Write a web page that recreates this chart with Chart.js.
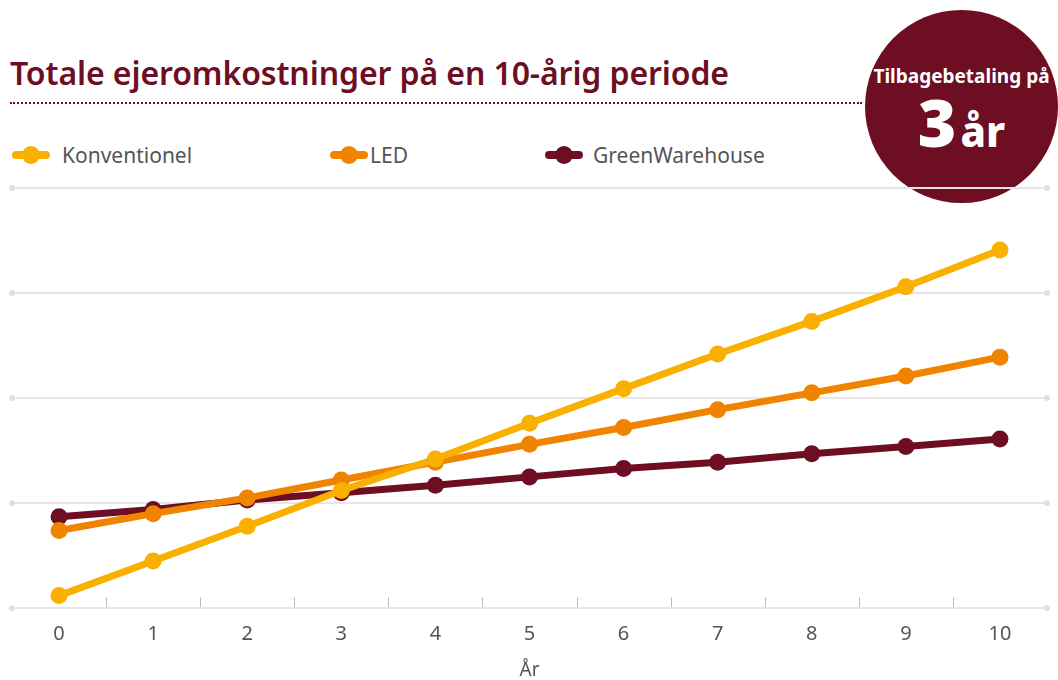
<!DOCTYPE html>
<html>
<head>
<meta charset="utf-8">
<script src="https://cdn.jsdelivr.net/npm/chart.js@4"></script>
<style>
  body { margin: 0; background: #fff; font-family: "Noto Sans", sans-serif; }
  #wrap { position: relative; width: 1058px; height: 680px; overflow: hidden; }
  #title { position: absolute; left: 10px; top: 51px; font-size: 32px; font-weight: 600; color: #6d0e22; white-space: nowrap; letter-spacing: -0.1px; }
  #rule { position: absolute; left: 10px; top: 102px; width: 852px; border-top: 2px dotted #6d0e22; }
  #badge { position: absolute; left: 865px; top: 10px; width: 193px; height: 193px; border-radius: 50%; background: #6d0e22; color: #fff; text-align: center; }
  #badge .small { position: absolute; left: -12px; right: -12px; top: 53px; font-size: 19px; font-weight: 700; }
  #badge .big { position: absolute; left: 0; right: 0; top: 78px; font-weight: 800; line-height: 1; }
  #badge .big b { font-size: 66px; }
  #badge .big span { font-size: 42px; margin-left: 4px; }
  .leg { position: absolute; top: 143px; height: 24px; display: flex; align-items: center; font-size: 21px; color: #555; white-space: nowrap; }
  .sym { position: relative; width: 38px; height: 8px; border-radius: 4px; flex: none; }
  .sym i { position: absolute; left: 10px; top: -5px; width: 18px; height: 18px; border-radius: 50%; }
  canvas { position: absolute; left: 0; top: 0; }
</style>
</head>
<body>
<div id="wrap">
  <div id="title">Totale ejeromkostninger på en 10-årig periode</div>
  <div id="rule"></div>
  <div id="badge">
    <div class="small">Tilbagebetaling på</div>
    <div class="big"><b>3</b><span>år</span></div>
  </div>
  <div id="legend"></div>
  <canvas id="chart" width="1058" height="684"></canvas>
</div>
<script>
const years = ["0", "1", "2", "3", "4", "5", "6", "7", "8", "9", "10"];
const konventionel = [0.12, 0.45, 0.78, 1.12, 1.42, 1.76, 2.09, 2.42, 2.73, 3.06, 3.41];
const led = [0.74, 0.90, 1.05, 1.22, 1.39, 1.56, 1.72, 1.89, 2.05, 2.21, 2.39];
const greenWarehouse = [0.87, 0.94, 1.03, 1.10, 1.17, 1.25, 1.33, 1.39, 1.47, 1.54, 1.61];
const seriesNames = ["Konventionel", "LED", "GreenWarehouse"];
const seriesColors = ["#f9b000", "#f08400", "#6d0e22"];
const legendX = [12, 330, 545];
const legendGap = [12, 2, 10];

const gridColor = "#e6e6e6";

const decorPlugin = {
    id: "decor",
    beforeDatasetsDraw(chart) {
        const { ctx, chartArea, scales } = chart;
        ctx.save();
        // small dots at the ends of each grid line
        ctx.fillStyle = "#e0e0e0";
        scales.y.ticks.forEach(t => {
            const y = scales.y.getPixelForValue(t.value);
            [chartArea.left, chartArea.right].forEach(x => {
                ctx.beginPath();
                ctx.arc(x, y, 3, 0, Math.PI * 2);
                ctx.fill();
            });
        });
        // tick marks between categories, pointing up
        ctx.strokeStyle = "#bbbbbb";
        ctx.lineWidth = 1;
        const half = (scales.x.getPixelForValue(1) - scales.x.getPixelForValue(0)) / 2;
        for (let i = 0; i < years.length - 1; i++) {
            const x = Math.round(scales.x.getPixelForValue(i) + half) + 0.5;
            ctx.beginPath();
            ctx.moveTo(x, chartArea.bottom - 1);
            ctx.lineTo(x, chartArea.bottom - 11);
            ctx.stroke();
        }
        ctx.restore();
    }
};

const datasets = [konventionel, led, greenWarehouse].map((d, i) => ({
    label: seriesNames[i],
    data: d,
    borderColor: seriesColors[i],
    backgroundColor: seriesColors[i],
    borderWidth: 7,
    pointRadius: 8.5,
    pointHoverRadius: 8.5,
    pointBorderWidth: 0,
    tension: 0
}));

const chart = new Chart(document.getElementById("chart").getContext("2d"), {
    type: "line",
    data: { labels: years, datasets: datasets },
    options: {
        responsive: false,
        animation: false,
        layout: { padding: { left: 12, right: 11, top: 188, bottom: 2 } },
        plugins: { legend: { display: false }, tooltip: { enabled: false } },
        scales: {
            x: {
                offset: true,
                grid: { display: false },
                border: { display: false },
                ticks: { color: "#555", font: { family: "Noto Sans", size: 20 }, padding: 6 },
                title: { display: true, text: "År", color: "#555", font: { family: "Noto Sans", size: 19 }, padding: { top: 7, bottom: 0 } }
            },
            y: {
                min: 0,
                max: 4,
                ticks: { display: false, stepSize: 1 },
                grid: { color: gridColor, lineWidth: 2, drawTicks: false },
                border: { display: false }
            }
        }
    },
    plugins: [decorPlugin]
});

// HTML legend from the datasets
const legend = document.getElementById("legend");
chart.data.datasets.forEach((ds, i) => {
    const item = document.createElement("div");
    item.className = "leg";
    item.style.left = legendX[i] + "px";
    item.innerHTML = '<div class="sym" style="background:' + ds.borderColor + '"><i style="background:' + ds.borderColor + '"></i></div>' +
        '<span style="margin-left:' + legendGap[i] + 'px">' + ds.label + '</span>';
    legend.appendChild(item);
});
</script>
</body>
</html>
